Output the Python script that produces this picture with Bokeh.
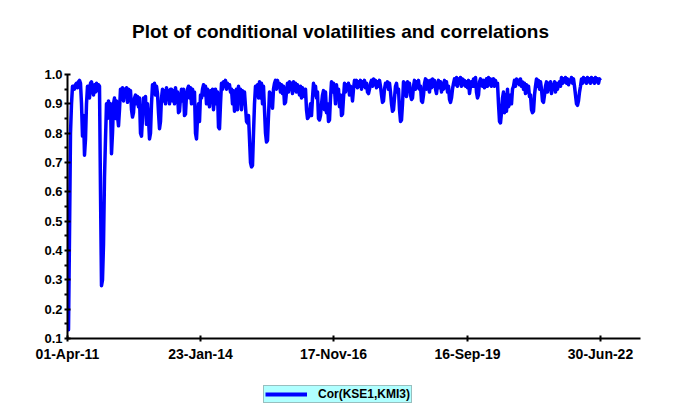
from bokeh.plotting import figure
from bokeh.layouts import column
from bokeh.models import Range1d, FixedTicker, Legend, LegendItem, NumeralTickFormatter, Label
from bokeh.embed import file_html
from bokeh.resources import INLINE

title_text = "Plot of conditional volatilities and correlations"
series_name = "Cor(KSE1,KMI3)"
x_tick_labels = ["01-Apr-11", "23-Jan-14", "17-Nov-16", "16-Sep-19", "30-Jun-22"]
y_ticks = [0.1, 0.2, 0.3, 0.4, 0.5, 0.6, 0.7, 0.8, 0.9, 1.0]
y_minor_ticks = [0.15, 0.25, 0.35, 0.45, 0.55, 0.65, 0.75, 0.85, 0.95]

cor_values = [
    0.15, 0.13, 0.45, 0.80, 0.90, 0.96,
    0.96, 0.95, 0.965, 0.97, 0.955,
    0.975, 0.98, 0.97,
    0.90, 0.79, 0.86, 0.725, 0.78, 0.90, 0.96,
    0.96, 0.92, 0.97, 0.975, 0.95, 0.93, 0.965, 0.94, 0.97, 0.945, 0.965,
    0.96, 0.60, 0.28, 0.30, 0.42, 0.65, 0.78,
    0.90, 0.85, 0.91, 0.86, 0.90,
    0.73, 0.80, 0.90,
    0.92, 0.85, 0.91, 0.86,
    0.825, 0.88,
    0.95, 0.92, 0.955, 0.91, 0.95, 0.93, 0.955, 0.905, 0.95, 0.93, 0.945,
    0.88, 0.855, 0.87, 0.92,
    0.93, 0.90, 0.925, 0.89, 0.92,
    0.80, 0.79, 0.85,
    0.92, 0.87, 0.925, 0.83, 0.90,
    0.85, 0.78, 0.80, 0.90,
    0.965, 0.94, 0.97, 0.93, 0.96, 0.935,
    0.87, 0.815, 0.84, 0.92,
    0.95, 0.91, 0.945, 0.90, 0.955, 0.915, 0.945, 0.90, 0.95,
    0.95, 0.91, 0.945, 0.90, 0.955, 0.92, 0.94,
    0.87, 0.875, 0.92, 0.95, 0.91,
    0.95, 0.86, 0.865, 0.93, 0.95,
    0.96, 0.92, 0.955, 0.90, 0.95, 0.93, 0.94,
    0.80, 0.78, 0.85, 0.90,
    0.84, 0.93, 0.92, 0.95,
    0.965, 0.93, 0.96, 0.90, 0.95,
    0.94, 0.89, 0.945, 0.92, 0.95, 0.88, 0.93, 0.95, 0.90, 0.94,
    0.82, 0.815, 0.90,
    0.97, 0.95, 0.975, 0.96, 0.98, 0.95, 0.97, 0.955, 0.965, 0.94,
    0.95, 0.90, 0.945, 0.875, 0.93, 0.95, 0.88,
    0.96, 0.92, 0.95, 0.88, 0.945, 0.90, 0.94, 0.89,
    0.84, 0.835, 0.86, 0.78, 0.70,
    0.685, 0.69, 0.80,
    0.90, 0.96, 0.94, 0.965, 0.92,
    0.975, 0.92, 0.97, 0.90, 0.96, 0.88, 0.80,
    0.77, 0.775, 0.86,
    0.94, 0.90, 0.935, 0.885, 0.95, 0.97, 0.98,
    0.95, 0.98, 0.96, 0.97, 0.94, 0.965, 0.935, 0.96,
    0.90, 0.905, 0.94,
    0.97, 0.94, 0.975, 0.95, 0.97, 0.935, 0.975, 0.945, 0.97, 0.94, 0.965,
    0.95, 0.93, 0.96, 0.92, 0.955, 0.94, 0.925, 0.95,
    0.88, 0.85, 0.855, 0.87, 0.90, 0.86, 0.92,
    0.97, 0.93, 0.96, 0.92, 0.94,
    0.85, 0.845, 0.86, 0.90, 0.93,
    0.945, 0.88, 0.94, 0.87, 0.90,
    0.84, 0.845, 0.92,
    0.975, 0.94, 0.97,
    0.95, 0.90, 0.965, 0.92, 0.95, 0.89, 0.93,
    0.86, 0.865, 0.92,
    0.97, 0.94, 0.965, 0.95, 0.97, 0.93, 0.96, 0.945, 0.91,
    0.95, 0.98, 0.96, 0.98, 0.955, 0.975, 0.96, 0.98, 0.95, 0.975, 0.96, 0.98, 0.955, 0.97, 0.94,
    0.935, 0.95, 0.97,
    0.98, 0.96, 0.985, 0.965, 0.98, 0.955, 0.975, 0.96, 0.98, 0.96,
    0.93, 0.905, 0.91, 0.95, 0.97,
    0.96, 0.975, 0.95, 0.97, 0.94,
    0.90, 0.875, 0.88, 0.92, 0.96,
    0.97, 0.94, 0.95,
    0.88, 0.84, 0.845, 0.90,
    0.975, 0.93, 0.97, 0.925, 0.975, 0.95, 0.97, 0.93,
    0.915, 0.92, 0.96,
    0.98, 0.95, 0.975, 0.955, 0.98, 0.95, 0.96,
    0.91, 0.905, 0.93, 0.97,
    0.985, 0.95, 0.98, 0.96, 0.94, 0.98, 0.955, 0.985, 0.96, 0.98, 0.95, 0.935, 0.965,
    0.98, 0.955, 0.975, 0.94, 0.97, 0.95, 0.98, 0.955, 0.975, 0.94, 0.96,
    0.915, 0.905, 0.92, 0.95, 0.97,
    0.985, 0.965, 0.99, 0.96, 0.985, 0.97, 0.99, 0.96, 0.985, 0.965, 0.98, 0.96,
    0.975, 0.955, 0.98, 0.935, 0.96, 0.975, 0.96,
    0.985, 0.96, 0.99, 0.94, 0.92, 0.93, 0.975, 0.985,
    0.97, 0.96, 0.98, 0.955, 0.975,
    0.985, 0.96, 0.99, 0.965, 0.985, 0.96, 0.975, 0.985, 0.96, 0.98, 0.965, 0.97,
    0.90, 0.84, 0.835, 0.87, 0.92,
    0.94, 0.87, 0.93, 0.875, 0.95, 0.89,
    0.90, 0.93, 0.90, 0.95, 0.96,
    0.98, 0.96, 0.985, 0.97, 0.98, 0.965, 0.985, 0.96, 0.975, 0.95,
    0.97, 0.935, 0.965, 0.94, 0.96, 0.925, 0.93,
    0.88, 0.87, 0.875, 0.93, 0.96,
    0.985, 0.96, 0.98, 0.95, 0.975, 0.95, 0.91,
    0.905, 0.93, 0.96,
    0.975, 0.94, 0.97, 0.95, 0.975, 0.935, 0.965, 0.95, 0.975, 0.94, 0.97, 0.95, 0.965, 0.975, 0.96,
    0.99, 0.97, 0.985, 0.975, 0.99, 0.97, 0.985, 0.965, 0.98, 0.975, 0.99, 0.97, 0.985, 0.96, 0.93,
    0.90, 0.895, 0.91, 0.94, 0.96,
    0.985, 0.97, 0.99, 0.975, 0.985, 0.97, 0.99, 0.975, 0.985, 0.97, 0.99, 0.975, 0.985, 0.97, 0.99, 0.975, 0.985, 0.97, 0.985, 0.98,
]

N = len(cor_values)
obs = list(range(N))
last = N - 1
x_ticks = [int(round(last * k / 4)) for k in range(5)]
x_end = last * 573 / 533

FONT = "Liberation Sans"
LINE_COLOR = "#0000FF"
TITLE_H = 50


def strip(height):
    f = figure(width=680, height=height, output_backend="svg", toolbar_location=None,
               x_range=Range1d(0, x_end), y_range=Range1d(5, 6), min_border=0,
               x_axis_location=None, y_axis_location=None)
    f.outline_line_color = None
    f.grid.visible = False
    f.background_fill_color = "white"
    f.border_fill_color = "white"
    return f


# ---- title strip (frame aligned with the main frame) ----
t = strip(TITLE_H)
t.add_layout(Label(x=273, y=19, x_units="screen", y_units="screen", text=title_text,
                   text_align="center", text_baseline="alphabetic", text_font=FONT,
                   text_font_size="19px", text_font_style="bold", text_color="black"))

# ---- main chart ----
p = figure(width=680, height=380 - TITLE_H, output_backend="svg", toolbar_location=None,
           x_range=Range1d(0, x_end), y_range=Range1d(0.1, 1.0),
           min_border_left=67, min_border_right=40, min_border_top=74 - TITLE_H,
           min_border_bottom=42)
p.outline_line_color = None
p.grid.visible = False
p.background_fill_color = "white"
p.border_fill_color = "white"

p.line(obs, cor_values, line_color=LINE_COLOR, line_width=3.5, line_join="round")

for ax in (p.xaxis[0], p.yaxis[0]):
    ax.axis_line_width = 2
    ax.axis_line_color = "black"
    ax.major_tick_line_width = 2
    ax.major_tick_in = 3
    ax.major_tick_out = 3
    ax.major_label_text_font = FONT
    ax.major_label_text_font_style = "bold"
    ax.major_label_text_color = "black"

xa = p.xaxis[0]
xa.ticker = FixedTicker(ticks=x_ticks)
xa.major_label_overrides = {tk: lab for tk, lab in zip(x_ticks, x_tick_labels)}
xa.minor_tick_line_color = None
xa.major_label_text_font_size = "14px"
xa.major_label_standoff = 4

ya = p.yaxis[0]
ya.ticker = FixedTicker(ticks=y_ticks, minor_ticks=y_minor_ticks)
ya.formatter = NumeralTickFormatter(format="0.0")
ya.minor_tick_in = 0
ya.minor_tick_out = 3
ya.minor_tick_line_width = 2
ya.minor_tick_line_color = "black"
ya.major_label_text_font_size = "13px"
ya.major_label_standoff = 2

# ---- legend strip below ----
q = strip(39)
# same series (falls outside this strip's range, so only its legend key shows)
key = q.line(obs, cor_values, line_color=LINE_COLOR, line_width=4)

legend = Legend(items=[LegendItem(label=series_name, renderers=[key])],
                location=(196, 16), orientation="vertical",
                background_fill_color="#B0FFFF", background_fill_alpha=1.0,
                border_line_color="#808080", border_line_width=1,
                label_text_font=FONT, label_text_font_size="12px",
                label_text_font_style="bold", label_text_color="black",
                glyph_width=42, glyph_height=14, label_height=14,
                padding=1, margin=0, spacing=0, label_standoff=11)
q.add_layout(legend)

layout = column(t, p, q, spacing=0)
open("out.html", "w").write(file_html(layout, INLINE))
